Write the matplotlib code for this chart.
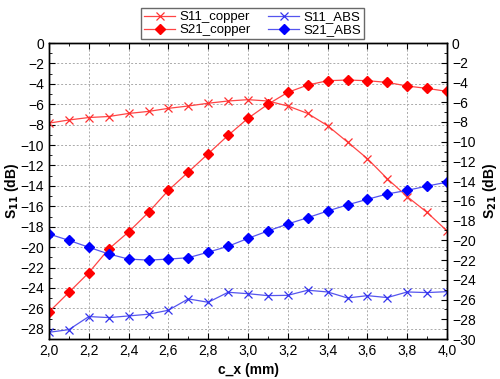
import matplotlib
matplotlib.use('Agg')
import matplotlib.pyplot as plt
from matplotlib.ticker import MultipleLocator, FuncFormatter

plt.rcParams['font.family'] = ['Liberation Sans', 'DejaVu Sans']

# c_x (mm)
cx = [2.0, 2.1, 2.2, 2.3, 2.4, 2.5, 2.6, 2.7, 2.8, 2.9, 3.0,
      3.1, 3.2, 3.3, 3.4, 3.5, 3.6, 3.7, 3.8, 3.9, 4.0]

# S11 (left axis, dB)
s11_copper = [-7.85, -7.54, -7.3, -7.2, -6.9, -6.7, -6.4, -6.17, -5.9, -5.68, -5.55,
              -5.68, -6.17, -6.9, -8.1, -9.7, -11.33, -13.3, -15.05, -16.6, -18.4]
s11_abs = [-28.34, -28.08, -26.8, -26.9, -26.74, -26.57, -26.18, -25.07, -25.4, -24.42, -24.56,
           -24.75, -24.72, -24.22, -24.39, -24.98, -24.75, -24.94, -24.39, -24.45, -24.36]

# S21 (right axis, dB)
s21_copper = [-27.26, -25.27, -23.28, -20.88, -19.15, -17.16, -14.93, -13.08, -11.22, -9.36, -7.63,
              -6.21, -5.0, -4.26, -3.82, -3.75, -3.82, -3.99, -4.36, -4.6, -4.9]
s21_abs = [-19.36, -20.0, -20.7, -21.38, -21.9, -22.0, -21.9, -21.76, -21.2, -20.6, -19.8,
           -19.05, -18.34, -17.7, -17.03, -16.4, -15.84, -15.3, -14.93, -14.5, -14.1]

fig = plt.figure(figsize=(5.0, 3.79), dpi=100)
ax = fig.add_axes([0.098, 0.1055, 0.796, 0.781])
ax2 = ax.twinx()

red_line = '#ff4444'
blue_line = '#5555ee'

l1, = ax.plot(cx, s11_copper, color=red_line, lw=0.9, marker='x', ms=6,
              mec='#ff3030', mew=0.9, label='S11_copper')
l3, = ax.plot(cx, s11_abs, color=blue_line, lw=0.9, marker='x', ms=6,
              mec='#3333ee', mew=0.9, label='S11_ABS')
l2, = ax2.plot(cx, s21_copper, color=red_line, lw=0.9, marker='D', ms=5.5,
               mfc='#ff0000', mec='#ff0000', label='S21_copper')
l4, = ax2.plot(cx, s21_abs, color=blue_line, lw=0.9, marker='D', ms=5.5,
               mfc='#0000ff', mec='#0000ff', label='S21_ABS')

comma = FuncFormatter(lambda v, p: f'{v:.1f}'.replace('.', ','))

ax.set_xlim(2.0, 4.0)
ax.set_ylim(-29, 0)
ax2.set_ylim(-30, 0)
ax.xaxis.set_major_locator(MultipleLocator(0.2))
ax.xaxis.set_minor_locator(MultipleLocator(0.1))
ax.xaxis.set_major_formatter(comma)
ax.yaxis.set_major_locator(MultipleLocator(2))
ax.yaxis.set_minor_locator(MultipleLocator(1))
ax2.yaxis.set_major_locator(MultipleLocator(2))
ax2.yaxis.set_minor_locator(MultipleLocator(1))

for a in (ax, ax2):
    for sp in a.spines.values():
        sp.set_linewidth(1.0)

ax.tick_params(which='both', direction='in', top=True, labelsize=10)
ax.tick_params(which='major', length=4)
ax.tick_params(which='minor', length=2.5)
ax2.tick_params(which='both', direction='in', labelsize=10)
ax2.tick_params(which='major', length=4)
ax2.tick_params(which='minor', length=2.5)

ax.grid(True, which='major', color='#aaaaaa', ls=(0, (2, 2)), lw=0.7)

ax.set_xlabel('c_x (mm)', fontweight='bold', fontsize=10, labelpad=4)
ax.set_ylabel('S$_{\\mathbf{11}}$ (dB)', fontweight='bold', fontsize=10)
ax.yaxis.set_label_coords(-0.07, 0.5)
ax2.set_ylabel('S$_{\\mathbf{21}}$ (dB)', fontweight='bold', fontsize=10, labelpad=4)

fig.legend([l1, l2, l3, l4], ['S11_copper', 'S21_copper', 'S11_ABS', 'S21_ABS'],
           ncol=2, loc='upper center', bbox_to_anchor=(0.505, 0.995),
           fontsize=9.5, frameon=True, fancybox=False, edgecolor='#444444',
           borderpad=0.2, handlelength=2.4, columnspacing=1.3,
           labelspacing=0.05, handletextpad=0.3)

fig.savefig('out.png', dpi=100)
